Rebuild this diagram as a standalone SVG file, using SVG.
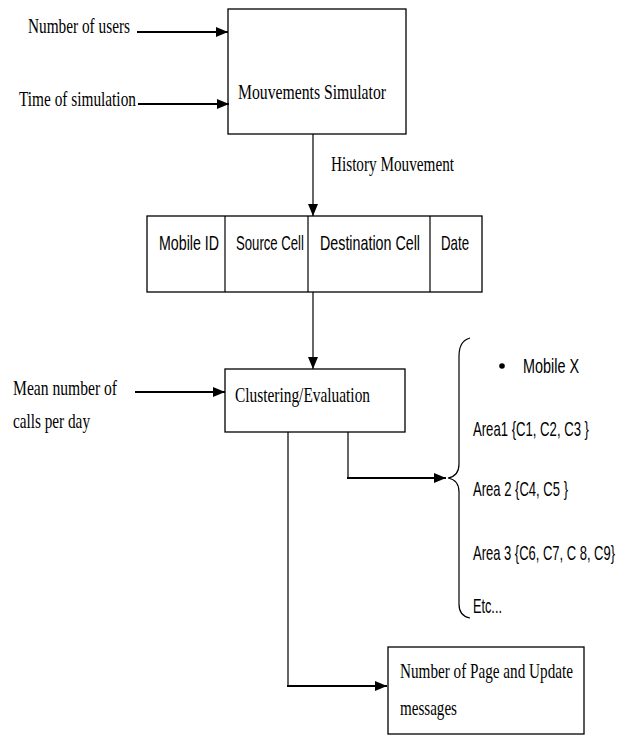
<svg xmlns="http://www.w3.org/2000/svg" width="625" height="736" viewBox="0 0 625 736">
<style>
.box{fill:#fff;stroke:#000;stroke-width:1.3}
.ser{font-family:"Liberation Serif","Times New Roman",serif;font-size:22px;fill:#000}
.san{font-family:"Liberation Sans",Arial,sans-serif;font-size:20px;fill:#000}
.ln{fill:none;stroke:#000;stroke-width:1.2}
.th{fill:none;stroke:#000;stroke-width:2.2}
</style>
<defs>
<marker id="ah" markerUnits="userSpaceOnUse" markerWidth="13" markerHeight="13" viewBox="0 0 13 13" refX="12" refY="6.5" orient="auto">
<path d="M0,1.5 L12,6.5 L0,11.5 Z" fill="#000"/>
</marker>
</defs>
<rect width="625" height="736" fill="#fff"/>
<g id="n-users"><text class="ser" transform="translate(28,33) scale(0.7,1)" textLength="145.7" lengthAdjust="spacingAndGlyphs">Number of users</text></g>
<g id="n-time"><text class="ser" transform="translate(19,106) scale(0.7,1)" textLength="167.1" lengthAdjust="spacingAndGlyphs">Time of simulation</text></g>
<g id="n-sim"><rect class="box" x="228" y="9" width="178" height="125"/>
<text class="ser" transform="translate(238,99) scale(0.7,1)" textLength="211.4" lengthAdjust="spacingAndGlyphs">Mouvements  Simulator</text></g>
<g id="n-history"><text class="ser" transform="translate(331,171) scale(0.7,1)" textLength="175.7" lengthAdjust="spacingAndGlyphs">History Mouvement</text></g>
<g id="n-table">
<rect class="box" x="147" y="216" width="335" height="76"/>
<line class="ln" x1="225" y1="216" x2="225" y2="292"/>
<line class="ln" x1="308" y1="216" x2="308" y2="292"/>
<line class="ln" x1="430" y1="216" x2="430" y2="292"/>
<text class="san" transform="translate(159,250) scale(0.7,1)" textLength="85.7" lengthAdjust="spacingAndGlyphs">Mobile ID</text>
<text class="san" transform="translate(236,250) scale(0.7,1)" textLength="97.1" lengthAdjust="spacingAndGlyphs">Source Cell</text>
<text class="san" transform="translate(320,250) scale(0.7,1)" textLength="142.9" lengthAdjust="spacingAndGlyphs">Destination  Cell</text>
<text class="san" transform="translate(441,250) scale(0.7,1)" textLength="40" lengthAdjust="spacingAndGlyphs">Date</text>
</g>
<g id="n-mean"><text class="ser" transform="translate(13,395) scale(0.7,1)" textLength="148.6" lengthAdjust="spacingAndGlyphs">Mean number of</text>
<text class="ser" transform="translate(13,428) scale(0.7,1)" textLength="110" lengthAdjust="spacingAndGlyphs">calls per day</text></g>
<g id="n-clust"><rect class="box" x="225" y="369" width="180" height="63"/>
<text class="ser" transform="translate(235,402) scale(0.7,1)" textLength="192.9" lengthAdjust="spacingAndGlyphs">Clustering/Evaluation</text></g>
<g id="n-areas">
<path class="ln" d="M470,338 Q459,341 459,356 L459,464 Q459,476 448,478 Q459,480 459,492 L459,604 Q459,616 470,618"/>
<circle cx="502" cy="366" r="2.8" fill="#000"/>
<text class="san" transform="translate(523,373) scale(0.7,1)" textLength="80" lengthAdjust="spacingAndGlyphs">Mobile X</text>
<text class="san" transform="translate(473,436) scale(0.7,1)" textLength="165.7" lengthAdjust="spacingAndGlyphs">Area1 {C1, C2, C3 }</text>
<text class="san" transform="translate(473,496) scale(0.7,1)" textLength="135.7" lengthAdjust="spacingAndGlyphs">Area 2 {C4, C5 }</text>
<text class="san" transform="translate(473,560) scale(0.7,1)" textLength="202.9" lengthAdjust="spacingAndGlyphs">Area 3 {C6, C7, C 8, C9}</text>
<text class="san" transform="translate(473,613) scale(0.7,1)" textLength="41.4" lengthAdjust="spacingAndGlyphs">Etc...</text>
</g>
<g id="n-page"><rect class="box" x="388" y="647" width="196" height="87"/>
<text class="ser" transform="translate(400,678) scale(0.7,1)" textLength="247.1" lengthAdjust="spacingAndGlyphs">Number of Page and Update</text>
<text class="ser" transform="translate(400,715) scale(0.7,1)" textLength="81.4" lengthAdjust="spacingAndGlyphs">messages</text></g>
<g id="connectors">
<line class="th" x1="137" y1="32" x2="228" y2="32" marker-end="url(#ah)"/>
<line class="th" x1="138" y1="104" x2="229" y2="104" marker-end="url(#ah)"/>
<line class="ln" x1="313" y1="134" x2="313" y2="216" marker-end="url(#ah)"/>
<line class="ln" x1="313" y1="292" x2="313" y2="369" marker-end="url(#ah)"/>
<line class="th" x1="135" y1="392" x2="225" y2="392" marker-end="url(#ah)"/>
<path class="ln" d="M348,432 L348,478 L380,478"/>
<line class="th" x1="347" y1="478" x2="446" y2="478" marker-end="url(#ah)"/>
<path class="ln" d="M288,432 L288,686 L300,686"/>
<line class="th" x1="287" y1="686" x2="387" y2="686" marker-end="url(#ah)"/>
</g>
</svg>
